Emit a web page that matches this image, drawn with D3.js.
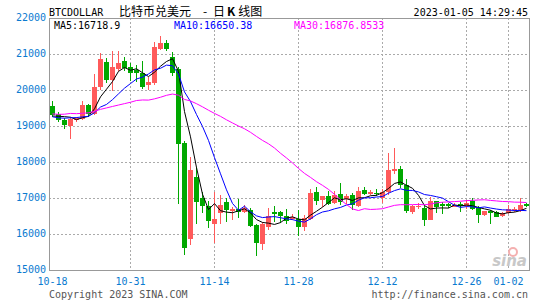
<!DOCTYPE html>
<html>
<head>
<meta charset="utf-8">
<script src="https://cdn.jsdelivr.net/npm/d3@7"></script>
<style>
  body { margin: 0; background: #fff; }
  svg { display: block; }
  text { font-family: "DejaVu Sans Mono", monospace; font-size: 10px; }
</style>
</head>
<body>
<div id="kline"></div>
<script>
// daily candles, 2022-10-18 .. 2023-01-05
const opens = [19564, 19333, 19156, 19010, 19170, 19205, 19570, 19330, 20080, 20790,
    20270, 20570, 20810, 20640, 20560, 20470, 20140, 20200, 21140, 21300,
    20930, 20590, 18540, 15870, 17570, 17010, 16770, 16270, 16590, 16880,
    16640, 16700, 16610, 16675, 16260, 15730, 16190, 16600, 16600, 16510,
    16420, 16425, 16185, 16420, 17155, 16955, 17065, 16860, 17120, 16975,
    17090, 16790, 17230, 17110, 17140, 17000, 17170, 17740, 17810, 17370,
    16600, 16740, 16720, 16400, 16905, 16830, 16840, 16760, 16840, 16790,
    16930, 16720, 16525, 16645, 16600, 16510, 16590, 16660, 16640, 16840];
const highs = [19703, 19378, 19222, 19240, 19250, 19700, 19620, 20440, 21040, 20890,
    21070, 21090, 20930, 20750, 20700, 20800, 20370, 21320, 21490, 21380,
    21060, 20650, 18590, 18150, 17870, 17160, 16930, 17170, 17090, 17000,
    16750, 16960, 16800, 16720, 16290, 16320, 16720, 16790, 16650, 16690,
    16560, 16675, 16535, 17250, 17305, 17065, 17185, 17200, 17420, 17120,
    17140, 17300, 17300, 17230, 17250, 17240, 18240, 18390, 17880, 17520,
    16800, 16850, 16800, 17040, 16930, 16880, 16870, 16860, 16880, 16950,
    17000, 16780, 16640, 16660, 16640, 16620, 16800, 16760, 17000, 16860];
const lows = [19250, 19119, 18917, 18650, 19120, 19160, 19250, 19300, 20000, 20200,
    19970, 20540, 20520, 20240, 20220, 20030, 20010, 20150, 21100, 21090,
    20400, 16840, 15430, 15700, 16290, 16570, 16180, 15750, 16290, 16330,
    16390, 16450, 16580, 16195, 15400, 15565, 16120, 16320, 16300, 16290,
    16380, 15950, 16070, 16380, 16815, 16750, 16815, 16830, 16815, 16845,
    16680, 16760, 17080, 17090, 17060, 16870, 17090, 17660, 17280, 16590,
    16560, 16700, 16210, 16400, 16590, 16560, 16720, 16740, 16620, 16700,
    16660, 16300, 16500, 16290, 16460, 16480, 16560, 16620, 16620, 16760];
const closes = [19306, 19156, 19017, 19190, 19210, 19580, 19340, 20070, 20850, 20270,
    20640, 20760, 20600, 20470, 20480, 20090, 20230, 21200, 21300, 21140,
    20470, 18490, 15600, 17790, 16880, 16770, 16350, 16430, 16810, 16675,
    16690, 16610, 16720, 16235, 15750, 16290, 16510, 16545, 16490, 16370,
    16470, 16195, 16445, 17140, 16905, 17045, 16840, 17090, 16880, 17045,
    16800, 17200, 17110, 17160, 17100, 17180, 17770, 17810, 17370, 16630,
    16770, 16790, 16380, 16910, 16750, 16790, 16770, 16815, 16780, 16860,
    16705, 16520, 16625, 16590, 16475, 16580, 16700, 16690, 16810, 16790];
// closes before the first visible day, estimated so the MA lines start where the picture shows
const priorCloses = [19545, 18890, 18550, 19410, 19290, 18930, 18800, 19220, 19080, 19410,
    19590, 19430, 19310, 19050, 19630, 20340, 20160, 19960, 19530, 19420,
    19440, 19130, 19060, 19160, 19380, 19190, 19070, 19270, 19550];

const tickDays = [0, 13, 27, 41, 55, 69, 76];
const tickLabels = ["10-18", "10-31", "11-14", "11-28", "12-12", "12-26", "01-02"];
const yTicks = [15000, 16000, 17000, 18000, 19000, 20000, 21000, 22000];
const maNames = ["MA5", "MA10", "MA30"];
const maPeriods = [5, 10, 30];
const maLast = ["16718.9", "16650.38", "16876.8533"];

function makeChart() {
    const width = 545,
        height = 300,
        left = 49,
        right = 529,
        top = 18,
        bottom = 270;

    const upColor = "#ff5a5a",
        downColor = "#00a800",
        axisBlue = "#0a7ad0",
        maColors = ["#000000", "#0000ff", "#ff00ff"];

    let svg = d3.select('#kline').append('svg')
        .attr('width', width)
        .attr('height', height);

    let x = d3.scaleBand()
        .domain(d3.range(closes.length))
        .range([left, right]);

    let y = d3.scaleLinear()
        .domain([15000, 22000])
        .range([bottom, top]);

    const cx = i => Math.floor(x(i) + x.bandwidth() / 2) + 0.5;

    // grid
    let grid = svg.append('g')
        .attr('stroke', '#aaaaaa')
        .attr('stroke-dasharray', '2,2');

    grid.selectAll('line.h')
        .data(yTicks.slice(1, -1))
        .enter().append('line')
        .attr('x1', left).attr('x2', right)
        .attr('y1', d => Math.round(y(d)) + 0.5)
        .attr('y2', d => Math.round(y(d)) + 0.5);

    grid.selectAll('line.v')
        .data(tickDays.slice(1))
        .enter().append('line')
        .attr('x1', d => cx(d)).attr('x2', d => cx(d))
        .attr('y1', top).attr('y2', bottom);

    // y labels
    svg.append('g').selectAll('text')
        .data(yTicks)
        .enter().append('text')
        .attr('x', 46)
        .attr('y', d => y(d) - 1)
        .attr('dy', '0.35em')
        .attr('text-anchor', 'end')
        .attr('fill', axisBlue)
        .text(d => d);

    // x labels
    svg.append('g').selectAll('text')
        .data(tickDays)
        .enter().append('text')
        .attr('x', d => cx(d))
        .attr('y', 281)
        .attr('dy', '0.35em')
        .attr('text-anchor', 'middle')
        .attr('fill', axisBlue)
        .text((d, i) => tickLabels[i]);

    // candles
    let candles = svg.append('g')
        .selectAll('g')
        .data(closes.map((c, i) => ({ i: i, o: opens[i], h: highs[i], l: lows[i], c: c })))
        .enter().append('g')
        .attr('shape-rendering', 'crispEdges');

    candles.append('line')
        .attr('x1', d => cx(d.i)).attr('x2', d => cx(d.i))
        .attr('y1', d => Math.round(y(d.h)))
        .attr('y2', d => Math.round(y(d.l)))
        .attr('stroke', d => d.c >= d.o ? upColor : downColor);

    candles.append('rect')
        .attr('x', d => Math.round(x(d.i)) + 1)
        .attr('width', 5)
        .attr('y', d => Math.round(y(Math.max(d.o, d.c))))
        .attr('height', d => Math.max(1, Math.round(y(Math.min(d.o, d.c))) - Math.round(y(Math.max(d.o, d.c)))))
        .attr('fill', d => d.c >= d.o ? upColor : downColor);

    // moving averages
    const allCloses = priorCloses.concat(closes);
    const offset = priorCloses.length;
    maPeriods.forEach((p, k) => {
        let pts = closes.map((c, i) => {
            let j = i + offset;
            return [cx(i), y(d3.mean(allCloses.slice(j - p + 1, j + 1)))];
        });
        svg.append('path')
            .attr('d', d3.line()(pts))
            .attr('fill', 'none')
            .attr('stroke', maColors[k])
            .attr('stroke-width', 1);
    });

    // frame
    svg.append('rect')
        .attr('x', left + 0.5).attr('y', top + 0.5)
        .attr('width', right - left).attr('height', bottom - top)
        .attr('fill', 'none')
        .attr('stroke', '#999999');

    // title row
    const cjk = '"Noto Sans CJK SC", sans-serif';
    svg.append('text').attr('x', 49).attr('y', 12).attr('dy', '0.35em')
        .text('BTCDOLLAR');
    svg.append('text').attr('x', 119).attr('y', 12).attr('dy', '0.35em')
        .style('font-family', cjk).style('font-size', '12px')
        .text('比特币兑美元');
    svg.append('text').attr('x', 205).attr('y', 12).attr('dy', '0.35em')
        .attr('text-anchor', 'middle')
        .style('font-family', cjk).style('font-size', '12px')
        .text('-');
    let t2 = svg.append('text').attr('x', 213).attr('y', 12).attr('dy', '0.35em')
        .style('font-family', cjk).style('font-size', '12px');
    t2.append('tspan').text('日');
    t2.append('tspan').attr('dx', 2).style('font-weight', 'bold').text('K');
    t2.append('tspan').attr('dx', 3).text('线图');
    svg.append('text').attr('x', 528).attr('y', 12).attr('dy', '0.35em')
        .attr('text-anchor', 'end')
        .text('2023-01-05 14:29:45');

    // MA legend
    const legendX = [54, 174, 294];
    maNames.forEach((n, k) => {
        svg.append('text')
            .attr('x', legendX[k]).attr('y', 25).attr('dy', '0.35em')
            .attr('fill', maColors[k])
            .text(n + ':' + maLast[k]);
    });

    // watermark
    svg.append('circle').attr('cx', 513).attr('cy', 252).attr('r', 4)
        .attr('fill', 'none').attr('stroke', '#f4b0b0').attr('stroke-width', 2);
    svg.append('text').attr('x', 527).attr('y', 266)
        .attr('text-anchor', 'end')
        .style('font-family', 'Verdana, "DejaVu Sans", sans-serif')
        .style('font-size', '15px').style('font-weight', 'bold').style('font-style', 'italic')
        .attr('fill', '#c8c8c8')
        .text('sina');

    // footer
    svg.append('text').attr('x', 49).attr('y', 294).attr('dy', '0.35em')
        .attr('fill', '#555555')
        .text('Copyright 2023 SINA.COM');
    svg.append('text').attr('x', 528).attr('y', 294).attr('dy', '0.35em')
        .attr('text-anchor', 'end')
        .attr('fill', '#555555')
        .text('http://finance.sina.com.cn');
}

makeChart();
</script>
</body>
</html>
